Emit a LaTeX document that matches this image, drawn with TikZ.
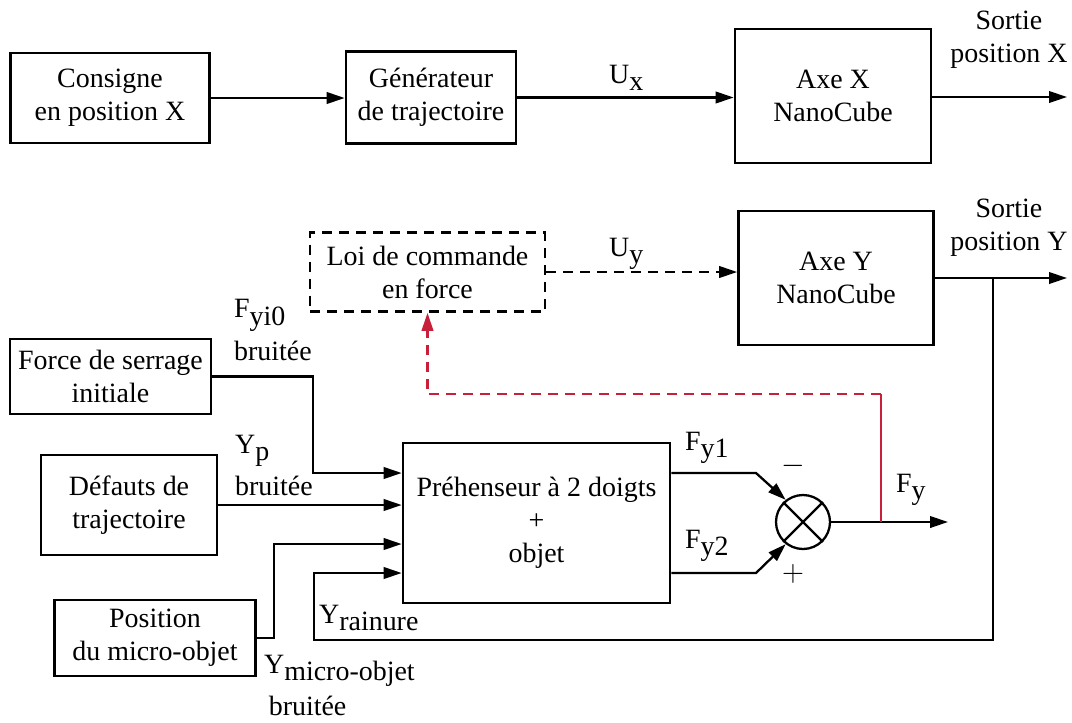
\documentclass[tikz,border=0pt]{standalone}
\usepackage{fontspec}
\setmainfont{Liberation Serif}
\usetikzlibrary{arrows.meta, positioning, calc}
\definecolor{crouge}{HTML}{C8203A}
\newcommand{\indice}[1]{\raisebox{-0.28em}{#1}}
\tikzset{
  every picture/.style={font=\fontsize{15.9}{18.8}\selectfont, line width=1.3pt},
  bloc/.style={draw, line width=1.5pt, align=center, inner sep=0pt},
  fleche/.style={-{Triangle[length=3.6mm, width=2.3mm]}},
  tirets/.style={dash pattern=on 2mm off 1.4mm},
  etiq/.style={inner sep=0pt, align=left},
}

\begin{document}
\begin{tikzpicture}[x=0.2mm, y=-0.2mm]
  \useasboundingbox (0,0) rectangle (1072,722);
  % axe X
  \node[bloc, minimum width=39.8mm, minimum height=18mm] (cons) at (110,98) {Consigne\\en position X};
  \node[bloc, minimum width=34mm, minimum height=18.4mm] (gen) at (431,97.5) {Générateur\\de trajectoire};
  \node[bloc, minimum width=39.2mm, minimum height=26.8mm] (axex) at (833,96) {Axe X\\NanoCube};
  \coordinate (outx) at (1067,97);
  \draw[fleche] (cons.east) -- (cons.east -| gen.west);
  \draw[fleche] (gen.east) -- (gen.east -| axex.west);
  \draw[fleche] (outx -| axex.east) -- (outx);
  \node[etiq, anchor=base west] (lux) at (608,83) {U\indice{x}};
  \node[inner sep=0pt, align=center] (lsx) at (1009,40) {Sortie\\position X};
  % axe Y
  \node[bloc, tirets, minimum width=47mm, minimum height=15.8mm] (loi) at (427.5,272) {Loi de commande\\en force};
  \node[bloc, minimum width=39mm, minimum height=26.8mm] (axey) at (836,278) {Axe Y\\NanoCube};
  \coordinate (outy) at (1067,278);
  \coordinate (br) at (993,278);
  \draw[fleche, tirets] (loi.east) -- (loi.east -| axey.west);
  \draw[fleche] (outy -| axey.east) -- (outy);
  \node[etiq, anchor=base west] (luy) at (608,256) {U\indice{y}};
  \node[inner sep=0pt, align=center] (lsy) at (1009,228) {Sortie\\position Y};
  % entrees du prehenseur
  \node[bloc, minimum width=40.2mm, minimum height=15mm] (force) at (110.5,376.5) {Force de serrage\\initiale};
  \node[bloc, minimum width=35.2mm, minimum height=20mm] (defauts) at (129,505) {Défauts de\\trajectoire};
  \node[bloc, minimum width=40.3mm, minimum height=15.2mm] (posit) at (155,638) {Position\\du micro-objet};
  \node[bloc, minimum width=53.4mm, minimum height=32mm] (preh) at (536.5,523) {Préhenseur à 2 doigts\\+\\objet};
  \coordinate (f2) at (313,473);
  \coordinate (p2) at (274,544);
  \coordinate (rb) at (314,640);
  \coordinate (rh) at (314,573);
  \draw[fleche] (force.east) -| (f2) -- (f2 -| preh.west);
  \draw[fleche] (defauts.east) -- (defauts.east -| preh.west);
  \draw[fleche] (posit.east) -| (p2) -- (p2 -| preh.west);
  \draw[fleche] (br) |- (rb) -- (rh) -- (rh -| preh.west);
  \node[etiq, anchor=base west] (lfyi) at (233,360) {F\indice{yi0}\\[4pt]bruitée};
  \node[etiq, anchor=base west] (lyp) at (234,495) {Y\indice{p}\\[4pt]bruitée};
  \node[etiq, anchor=base west] (lymo) at (263,715) {Y\indice{micro-objet}\\[4pt]\,bruitée};
  \node[etiq, anchor=base west] (lyr) at (318,623) {Y\indice{rainure}};
  % comparateur
  \node[draw, circle, minimum size=10.8mm, inner sep=0pt] (sum) at (803,522) {};
  \draw (sum.45) -- (sum.225) (sum.135) -- (sum.315);
  \coordinate (k1) at (756,473);
  \coordinate (k2) at (756,573);
  \coordinate (fyout) at (948,522);
  \draw[fleche] (k1 -| preh.east) -- (k1) -- (sum.128);
  \draw[fleche] (k2 -| preh.east) -- (k2) -- (sum.232);
  \draw[fleche] (sum.east) -- (fyout);
  \node[etiq, anchor=base west] (lfy1) at (684,450) {F\indice{y1}};
  \node[etiq, anchor=base west] (lfy2) at (684,548) {F\indice{y2}};
  \node[etiq, anchor=base west] (lfy) at (895,492) {F\indice{y}};
  \node[inner sep=0pt] (lmoins) at (793,466) {$-$};
  \node[inner sep=0pt] (lplus) at (793,574) {$+$};
  % retour en force
  \coordinate (rd1) at (881,522);
  \coordinate (rd2) at (881,394);
  \draw[crouge] (rd1) -- (rd2);
  \draw[crouge, tirets, fleche] (rd2) -| (loi.south);
\end{tikzpicture}
\end{document}
